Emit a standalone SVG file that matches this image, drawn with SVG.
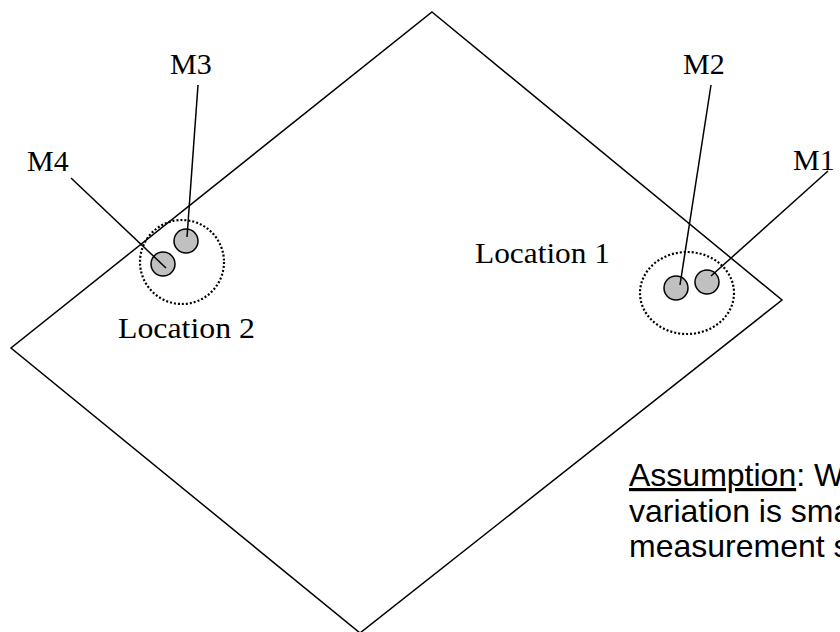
<svg xmlns="http://www.w3.org/2000/svg" width="840" height="632" viewBox="0 0 840 632">
<style>
.edge{fill:none;stroke:#000;stroke-width:1.5}
.zone{fill:none;stroke:#000;stroke-width:2.2;stroke-dasharray:2 2}
.pt{fill:#c0c0c0;stroke:#000;stroke-width:1.5}
.lead{stroke:#000;stroke-width:1.5}
.serif{font-family:"Liberation Serif","Times New Roman",serif;font-size:30px;fill:#000}
.sans{font-family:"Liberation Sans",Arial,sans-serif;font-size:32px;fill:#000}
</style>
<rect width="840" height="632" fill="#fff"/>
<g id="area">
<polygon class="edge" points="432,12 782,300 360,633 11,348"/>
</g>
<g id="location2">
<circle class="zone" cx="182" cy="262" r="42"/>
<text class="serif" x="118" y="338" textLength="137" lengthAdjust="spacingAndGlyphs">Location 2</text>
</g>
<g id="location1">
<ellipse class="zone" cx="687" cy="293" rx="47" ry="41"/>
<text class="serif" x="475" y="263" textLength="135" lengthAdjust="spacingAndGlyphs">Location 1</text>
</g>
<g id="m1"><circle class="pt" cx="707" cy="282" r="12"/><text class="serif" x="793" y="170">M1</text></g>
<g id="m2"><circle class="pt" cx="676" cy="288" r="12"/><text class="serif" x="683" y="74">M2</text></g>
<g id="m3"><circle class="pt" cx="186" cy="241" r="12"/><text class="serif" x="170" y="74">M3</text></g>
<g id="m4"><circle class="pt" cx="163" cy="264" r="12"/><text class="serif" x="27" y="171">M4</text></g>
<g id="connectors">
<line class="lead" x1="828" y1="171" x2="711" y2="276"/>
<line class="lead" x1="711" y1="85" x2="680" y2="285"/>
<line class="lead" x1="198" y1="85" x2="187" y2="237"/>
<line class="lead" x1="71" y1="178" x2="166" y2="268"/>
</g>
<g id="note">
<text class="sans" x="629" y="486"><tspan text-decoration="underline">Assumption</tspan>: W</text>
<text class="sans" x="629" y="522">variation is sma</text>
<text class="sans" x="629" y="557">measurement s</text>
</g>
</svg>
